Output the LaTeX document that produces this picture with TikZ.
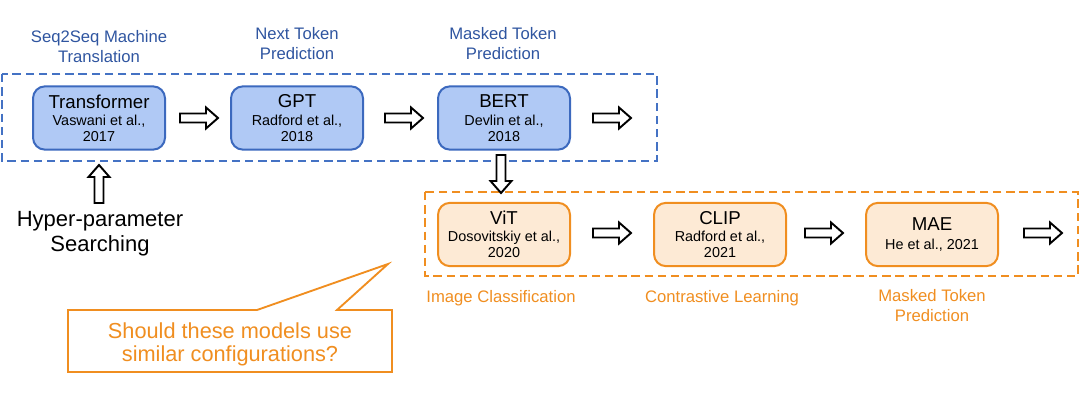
\documentclass[tikz,border=0pt]{standalone}
\usepackage{fontspec}
\setmainfont{Liberation Sans}
\definecolor{bluetxt}{RGB}{47,85,160}
\definecolor{bluedash}{RGB}{68,114,196}
\definecolor{bluefill}{RGB}{176,201,245}
\definecolor{blueline}{RGB}{60,105,190}
\definecolor{orng}{RGB}{240,142,32}
\definecolor{orngfill}{RGB}{253,234,213}
\begin{document}
\begin{tikzpicture}[x=0.75pt,y=-0.75pt,
  modelbox/.style={rounded corners=9pt, line width=1.5pt, minimum width=99pt, minimum height=47.5pt, align=center, inner sep=0pt},
  bluebox/.style={modelbox, draw=blueline, fill=bluefill},
  orangebox/.style={modelbox, draw=orng, fill=orngfill},
  groupbox/.style={line width=1.9pt, dash pattern=on 6.3pt off 3.6pt},
  bluelabel/.style={text=bluetxt, font=\fontsize{12.5}{15}\selectfont, align=center, anchor=base},
  orangelabel/.style={text=orng, font=\fontsize{12.5}{15}\selectfont, align=center, anchor=base},
  barrow/.pic={\draw[line width=1.45pt, fill=white, line join=miter]
     (-19,-4.5) -- (7,-4.5) -- (7,-10.5) -- (19,0) -- (7,10.5) -- (7,4.5) -- (-19,4.5) -- cycle;}
]
\useasboundingbox (0,0) rectangle (1080,402);
\newcommand{\mt}[1]{{\fontsize{14}{16}\selectfont #1}}
\newcommand{\st}[1]{{\fontsize{10.8}{12.5}\selectfont #1}}

% group boxes
\draw[groupbox, draw=bluedash] (2,74) rectangle (657,161);

% top labels
\node[bluelabel] (lab1) at (99,43) {Seq2Seq Machine};
\node[bluelabel] (lab1b) at (99,63) {Translation};
\node[bluelabel] (lab2) at (297,40) {Next Token};
\node[bluelabel] (lab2b) at (297,60) {Prediction};
\node[bluelabel] (lab3) at (503,40) {Masked Token};
\node[bluelabel] (lab3b) at (503,60) {Prediction};

% top boxes
\node[bluebox] (trans) at (99,118) {\mt{Transformer}\\[1pt]\st{Vaswani et al.,}\\\st{2017}};
\node[bluebox] (gpt) at (297,118) {\mt{GPT}\\[1pt]\st{Radford et al.,}\\\st{2018}};
\node[bluebox] (bert) at (504,118) {\mt{BERT}\\[1pt]\st{Devlin et al.,}\\\st{2018}};

% top arrows
\pic at (199,118) {barrow};
\pic at (404,118) {barrow};
\pic at (612,118) {barrow};

% orange group
\draw[groupbox, draw=orng] (425,192) rectangle (1078,276);

% down arrow from BERT
\pic[rotate=-90] at (501,174) {barrow};

% bottom boxes
\node[orangebox] (vit) at (504,234.5) {\mt{ViT}\\[1pt]\st{Dosovitskiy et al.,}\\\st{2020}};
\node[orangebox] (clip) at (720,234.5) {\mt{CLIP}\\[1pt]\st{Radford et al.,}\\\st{2021}};
\node[orangebox] (mae) at (932,234.5) {\mt{MAE}\\[2pt]\st{He et al., 2021}};

% bottom arrows
\pic at (612,233) {barrow};
\pic at (824,233) {barrow};
\pic at (1043,233) {barrow};

% bottom labels
\node[orangelabel] (olab1) at (501,302) {Image Classification};
\node[orangelabel] (olab2) at (722,302) {Contrastive Learning};
\node[orangelabel] (olab3) at (932,301) {Masked Token};
\node[orangelabel] (olab3b) at (932,321) {Prediction};

% hyper-parameter
\pic[rotate=90] at (99,184) {barrow};
\node[anchor=base, font=\fontsize{16.5}{18}\selectfont] (hyp) at (100,227) {Hyper-parameter};
\node[anchor=base, font=\fontsize{16.5}{18}\selectfont] (srch) at (100,252) {Searching};

% callout
\draw[draw=orng, line width=1.4pt, fill=white, line join=miter]
  (68,310) -- (257,310) -- (388,264) -- (337,310) -- (392,310) -- (392,372) -- (68,372) -- cycle;
\node[anchor=base, text=orng, font=\fontsize{16.3}{18}\selectfont] (q1) at (230,338) {Should these models use};
\node[anchor=base, text=orng, font=\fontsize{16.3}{18}\selectfont] (q2) at (230,361) {similar configurations?};
\end{tikzpicture}
\end{document}
